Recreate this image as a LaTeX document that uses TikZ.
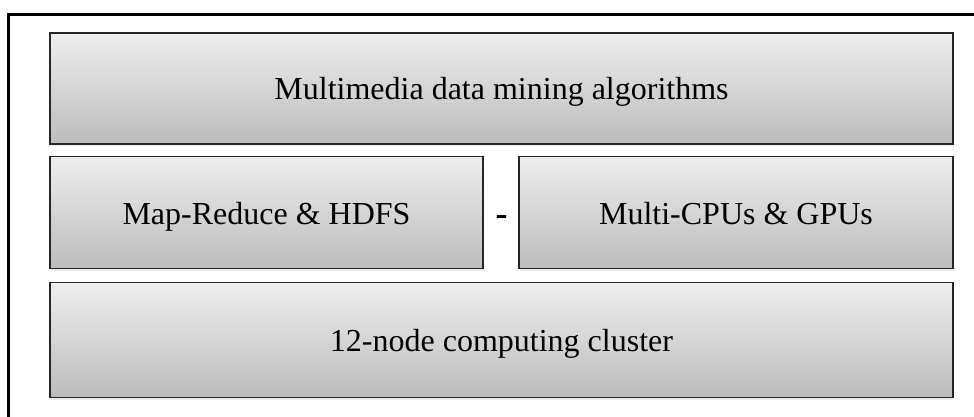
\documentclass[tikz,border=0pt]{standalone}
\usepackage{fontspec}
\setmainfont{Liberation Serif}
\usetikzlibrary{shadows}
\definecolor{boxtop}{RGB}{238,238,238}
\definecolor{boxbot}{RGB}{188,188,188}
\begin{document}
\begin{tikzpicture}[x=1pt,y=-1pt,
  layerbox/.style={draw=black!85, line width=1.4pt, top color=boxtop, bottom color=boxbot,
    inner sep=0pt, outer sep=0pt, anchor=north west,
    text height=29pt, text depth=6pt,
    drop shadow={shadow xshift=1pt, shadow yshift=-2pt, opacity=0.18, fill=black!40},
    font=\fontsize{32}{36}\selectfont},
  frameline/.style={draw=black, line width=2.6pt}]
\useasboundingbox (0,0) rectangle (974,417);
\draw[frameline] (8.3,417) -- (8.3,14.5) -- (974,14.5);
\node[layerbox, minimum width=903pt, minimum height=111pt] (alg) at (50,33) {Multimedia data mining algorithms};
\node[layerbox, minimum width=433pt, minimum height=112pt] (mr) at (50,156.5) {Map-Reduce \& HDFS};
\node[layerbox, minimum width=434pt, minimum height=112pt] (gpu) at (519,156.5) {Multi-CPUs \& GPUs};
\node[layerbox, minimum width=903pt, minimum height=115pt] (cl) at (50,282.5) {12-node computing cluster};
\node[font=\fontsize{36}{38}\selectfont\bfseries, inner sep=0pt] (dash) at (501.5,220) {-};
\end{tikzpicture}
\end{document}
